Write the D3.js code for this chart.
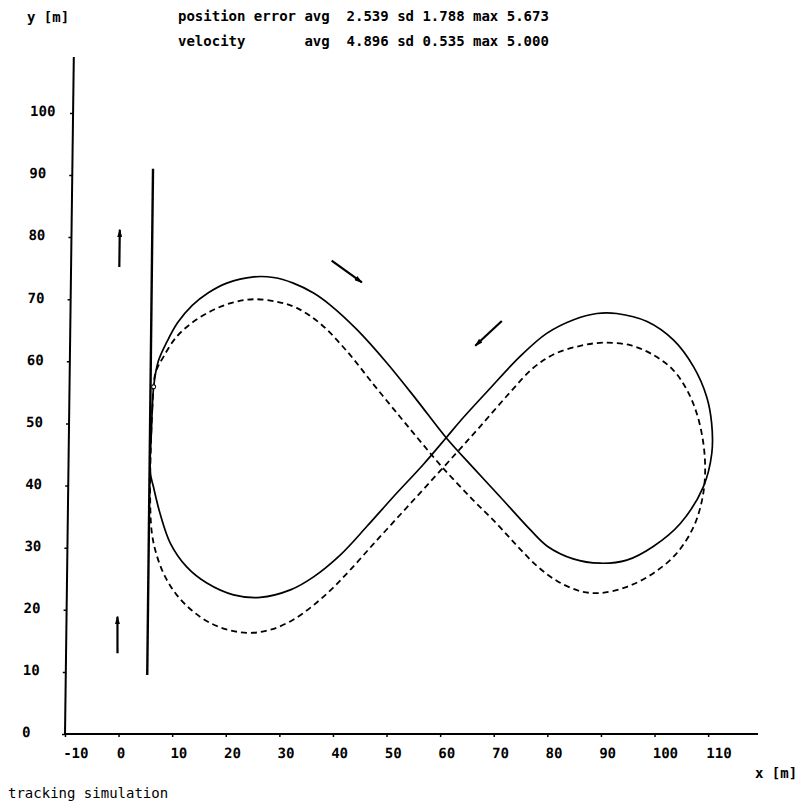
<!DOCTYPE html>
<html>
<head>
<meta charset="utf-8">
<script src="https://cdn.jsdelivr.net/npm/d3@7"></script>
<style>
  body { margin: 0; background: #fff; }
  text { font-family: "DejaVu Sans Mono", monospace; font-weight: bold; font-size: 14px; fill: #000; }
</style>
</head>
<body>
<svg id="chart" width="796" height="807"></svg>
<script>
// Axis ticks
const xTicks = [-10, 0, 10, 20, 30, 40, 50, 60, 70, 80, 90, 100, 110];
const yTicks = [0, 10, 20, 30, 40, 50, 60, 70, 80, 90, 100];

// Summary statistics shown above the plot
const statLines = [
  "position error avg  2.539 sd 1.788 max 5.673",
  "velocity       avg  4.896 sd 0.535 max 5.000"
];

// Tracked vehicle path [x, y] in metres (figure-eight, closed)
const trackedPath = [
  [5.3, 42.0], [5.4, 49.0], [5.7, 55.9], [6.5, 60.0], [8.1, 63.2], [10.0, 66.2],
  [12.7, 69.0], [15.6, 71.0], [19.1, 72.6], [24.1, 73.6], [27.8, 73.5], [31.5, 72.6],
  [35.3, 71.0], [38.4, 69.1], [43.5, 65.1], [49.2, 59.7], [54.8, 53.8], [60.4, 47.7],
  [65.6, 42.8], [70.6, 38.2], [76.3, 32.9], [79.6, 30.2], [84.4, 28.2], [89.4, 27.5],
  [94.4, 28.0], [99.3, 30.2], [104.3, 33.9], [108.5, 39.8], [110.0, 45.2], [109.9, 50.0],
  [108.9, 54.3], [106.4, 59.1], [102.6, 63.4], [97.6, 66.4], [91.9, 67.7], [88.2, 67.7],
  [83.9, 66.7], [78.9, 64.5], [74.0, 60.8], [67.9, 55.1], [63.0, 50.4], [60.4, 47.7],
  [56.2, 43.4], [50.7, 38.2], [45.8, 33.4], [40.9, 28.8], [36.0, 25.3], [31.7, 23.2],
  [26.1, 22.0], [21.1, 22.4], [16.1, 24.3], [12.3, 26.9], [9.2, 30.7], [7.2, 35.5],
  [5.9, 39.8]
];

// Reference path [x, y] in metres (figure-eight, closed)
const referencePath = [
  [5.3, 44.9], [5.5, 52.2], [6.0, 58.1], [7.5, 60.8], [9.9, 64.0], [13.0, 66.4],
  [16.7, 68.3], [20.4, 69.5], [24.1, 70.0], [28.5, 69.6], [32.2, 68.6], [36.6, 66.1],
  [41.7, 61.6], [46.7, 56.3], [51.8, 51.0], [55.7, 47.0], [59.7, 43.0], [65.3, 37.9],
  [70.0, 33.9], [74.0, 30.2], [77.6, 27.1], [81.5, 24.6], [85.8, 23.0], [89.5, 22.7],
  [94.5, 23.7], [99.4, 25.9], [103.7, 29.1], [106.8, 33.4], [108.3, 37.7], [108.8, 42.0],
  [108.4, 46.8], [107.1, 51.6], [105.2, 55.4], [102.6, 58.6], [98.9, 61.0], [94.5, 62.6],
  [89.5, 63.0], [85.2, 62.5], [80.2, 61.1], [76.3, 58.8], [72.0, 54.8], [66.7, 49.5],
  [62.4, 45.3], [56.9, 40.0], [52.0, 35.3], [47.1, 30.6], [43.0, 26.6], [39.6, 23.5],
  [36.0, 20.7], [32.3, 18.4], [28.5, 16.9], [24.9, 16.3], [21.0, 16.6], [17.0, 17.8],
  [13.5, 19.8], [10.5, 22.4], [8.2, 25.5], [6.6, 29.0], [5.7, 32.5], [5.3, 38.5]
];

// Straight approach segment [x, y]
const approachSegment = [[5.2, 9.5], [5.05, 91.0]];

// Heading arrows: start and end point [x, y]
const headingArrows = [
  [[-1.0, 75.2], [-1.0, 81.2]],
  [[-0.4, 13.0], [-0.5, 18.9]],
  [[38.6, 76.2], [44.3, 72.7]],
  [[70.5, 66.5], [65.6, 62.5]]
];

// Start marker on the tracked path
const startMarker = [[5.7, 55.9]];

const svg = d3.select("#chart");

const x = d3.scaleLinear().domain([-10, 119.3]).range([65, 758]);
const y = d3.scaleLinear().domain([0, 109]).range([734, 57]);

// slight shear of the plotting frame
const shear = 0.013;
const plot = svg.append("g")
  .attr("transform", `translate(${shear * y(0)},0) skewX(${-Math.atan(shear) * 180 / Math.PI})`);

const defs = svg.append("defs");
defs.append("marker")
  .attr("id", "head")
  .attr("viewBox", "0 0 10 6")
  .attr("refX", 9).attr("refY", 3)
  .attr("markerWidth", 9).attr("markerHeight", 5)
  .attr("markerUnits", "userSpaceOnUse")
  .attr("orient", "auto")
  .append("path").attr("d", "M0,0 L10,3 L0,6 Z").attr("fill", "#000");

// x axis
const xAxis = d3.axisBottom(x).tickValues(xTicks).tickSize(3).tickFormat(d => d);
const gx = plot.append("g").attr("transform", `translate(0,${y(0)})`).call(xAxis);
gx.select(".domain").attr("stroke", "#000").attr("stroke-width", 2)
  .attr("d", `M${x(-10)},0H${x(119.3)}`);
gx.selectAll(".tick line").attr("stroke", "#000").attr("stroke-width", 1.5);
gx.selectAll(".tick text")
  .attr("text-anchor", "start")
  .attr("x", -2)
  .attr("y", 0)
  .attr("dy", 24)
  .style("font-family", '"DejaVu Sans Mono", monospace')
  .style("font-size", "14px").style("font-weight", "bold");

// y axis
const yAxis = d3.axisLeft(y).tickValues(yTicks).tickSize(3).tickFormat(d => d);
const gy = plot.append("g").attr("transform", `translate(${x(-10)},0)`).call(yAxis);
gy.select(".domain").attr("stroke", "#000").attr("stroke-width", 2)
  .attr("d", `M0,${y(0)}V${y(109)}`);
gy.selectAll(".tick line").attr("stroke", "#000").attr("stroke-width", 1.5);
gy.selectAll(".tick text")
  .attr("text-anchor", "start")
  .attr("x", 22 - x(-10))
  .attr("dy", "0.2em")
  .style("font-family", '"DejaVu Sans Mono", monospace')
  .style("font-size", "14px").style("font-weight", "bold");

const line = d3.line().x(d => x(d[0])).y(d => y(d[1]));
const loop = d3.line().x(d => x(d[0])).y(d => y(d[1])).curve(d3.curveCatmullRomClosed.alpha(0.5));

// approach segment
plot.append("path").datum(approachSegment)
  .attr("d", line).attr("fill", "none").attr("stroke", "#000").attr("stroke-width", 2.4);

// reference path (dashed)
plot.append("path").datum(referencePath)
  .attr("d", loop).attr("fill", "none").attr("stroke", "#000")
  .attr("stroke-width", 1.8).attr("stroke-dasharray", "6,4");

// tracked path (solid)
plot.append("path").datum(trackedPath)
  .attr("d", loop).attr("fill", "none").attr("stroke", "#000").attr("stroke-width", 1.7);

// start marker
plot.selectAll(".start").data(startMarker).join("circle")
  .attr("cx", d => x(d[0])).attr("cy", d => y(d[1])).attr("r", 2)
  .attr("fill", "#fff").attr("stroke", "#000").attr("stroke-width", 1);

// heading arrows
plot.selectAll(".arrow").data(headingArrows).join("path")
  .attr("class", "arrow")
  .attr("d", d => line(d))
  .attr("fill", "none").attr("stroke", "#000").attr("stroke-width", 2.2)
  .attr("marker-end", "url(#head)");

// labels
svg.append("text").attr("x", 27).attr("y", 22).text("y [m]");
svg.selectAll(".stat").data(statLines).join("text")
  .attr("class", "stat")
  .attr("x", 178).attr("y", (d, i) => 21 + i * 25)
  .attr("xml:space", "preserve").style("white-space", "pre")
  .text(d => d);
svg.append("text").attr("x", 755).attr("y", 778).text("x [m]");
svg.append("text").attr("x", 8).attr("y", 798).style("font-weight", "normal").text("tracking simulation");
</script>
</body>
</html>
